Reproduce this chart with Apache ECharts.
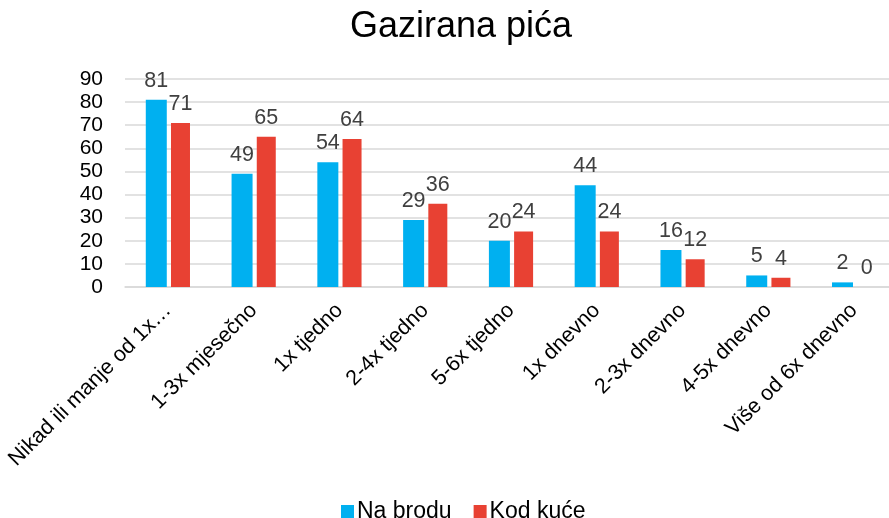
<!DOCTYPE html>
<html><head><meta charset="utf-8">
<script src="https://cdn.jsdelivr.net/npm/echarts@6/dist/echarts.min.js"></script>
<style>html,body{margin:0;padding:0;background:#fff}#c{width:889px;height:518px}</style>
</head><body><div id="c"></div>
<script>
const categories = ["Nikad ili manje od 1x…","1-3x mjesečno","1x tjedno","2-4x tjedno","5-6x tjedno","1x dnevno","2-3x dnevno","4-5x dnevno","Više od 6x dnevno"];
const naBrodu = [81,49,54,29,20,44,16,5,2];
const kodKuce = [71,65,64,36,24,24,12,4,0];
const seriesNames = ["Na brodu","Kod kuće"];
const chart = echarts.init(document.getElementById('c'));
const font = 'Arial, "Liberation Sans", sans-serif';
chart.setOption({
  animation:false,
  title:{text:"Gazirana pića",left:456,top:4,textAlign:'center',textStyle:{fontFamily:font,fontSize:36,fontWeight:'normal',color:'#000'}},
  grid:{left:125,right:-8,top:79,bottom:231,containLabel:false,outerBoundsMode:'none'},
  legend:{top:495,left:336,itemWidth:13,itemHeight:13,itemGap:22,icon:'rect',textStyle:{fontFamily:font,fontSize:23,color:'#000',padding:[0,0,0,-2]},data:seriesNames},
  xAxis:{type:'category',data:categories,axisTick:{show:false},axisLine:{lineStyle:{color:'#d9d9d9',width:1.5}},
    axisLabel:{rotate:45,interval:0,fontFamily:font,fontSize:21.5,color:'#000',margin:20}},
  yAxis:{type:'value',min:0,max:90,interval:10,axisLine:{show:false},axisTick:{show:false},
    splitLine:{lineStyle:{color:'#d9d9d9',width:1.5}},axisLabel:{fontFamily:font,fontSize:21,color:'#000',margin:22}},
  series:[
    {name:seriesNames[0],type:'bar',data:naBrodu,barWidth:21,barGap:'20%',itemStyle:{color:'#00B0F0'},
     label:{show:true,position:'top',distance:8,fontFamily:font,fontSize:21.5,color:'#404040'}},
    {name:seriesNames[1],type:'bar',data:kodKuce,barWidth:19,itemStyle:{color:'#E84133'},
     label:{show:true,position:'top',distance:8,fontFamily:font,fontSize:21.5,color:'#404040'}}
  ]
});
</script></body></html>
